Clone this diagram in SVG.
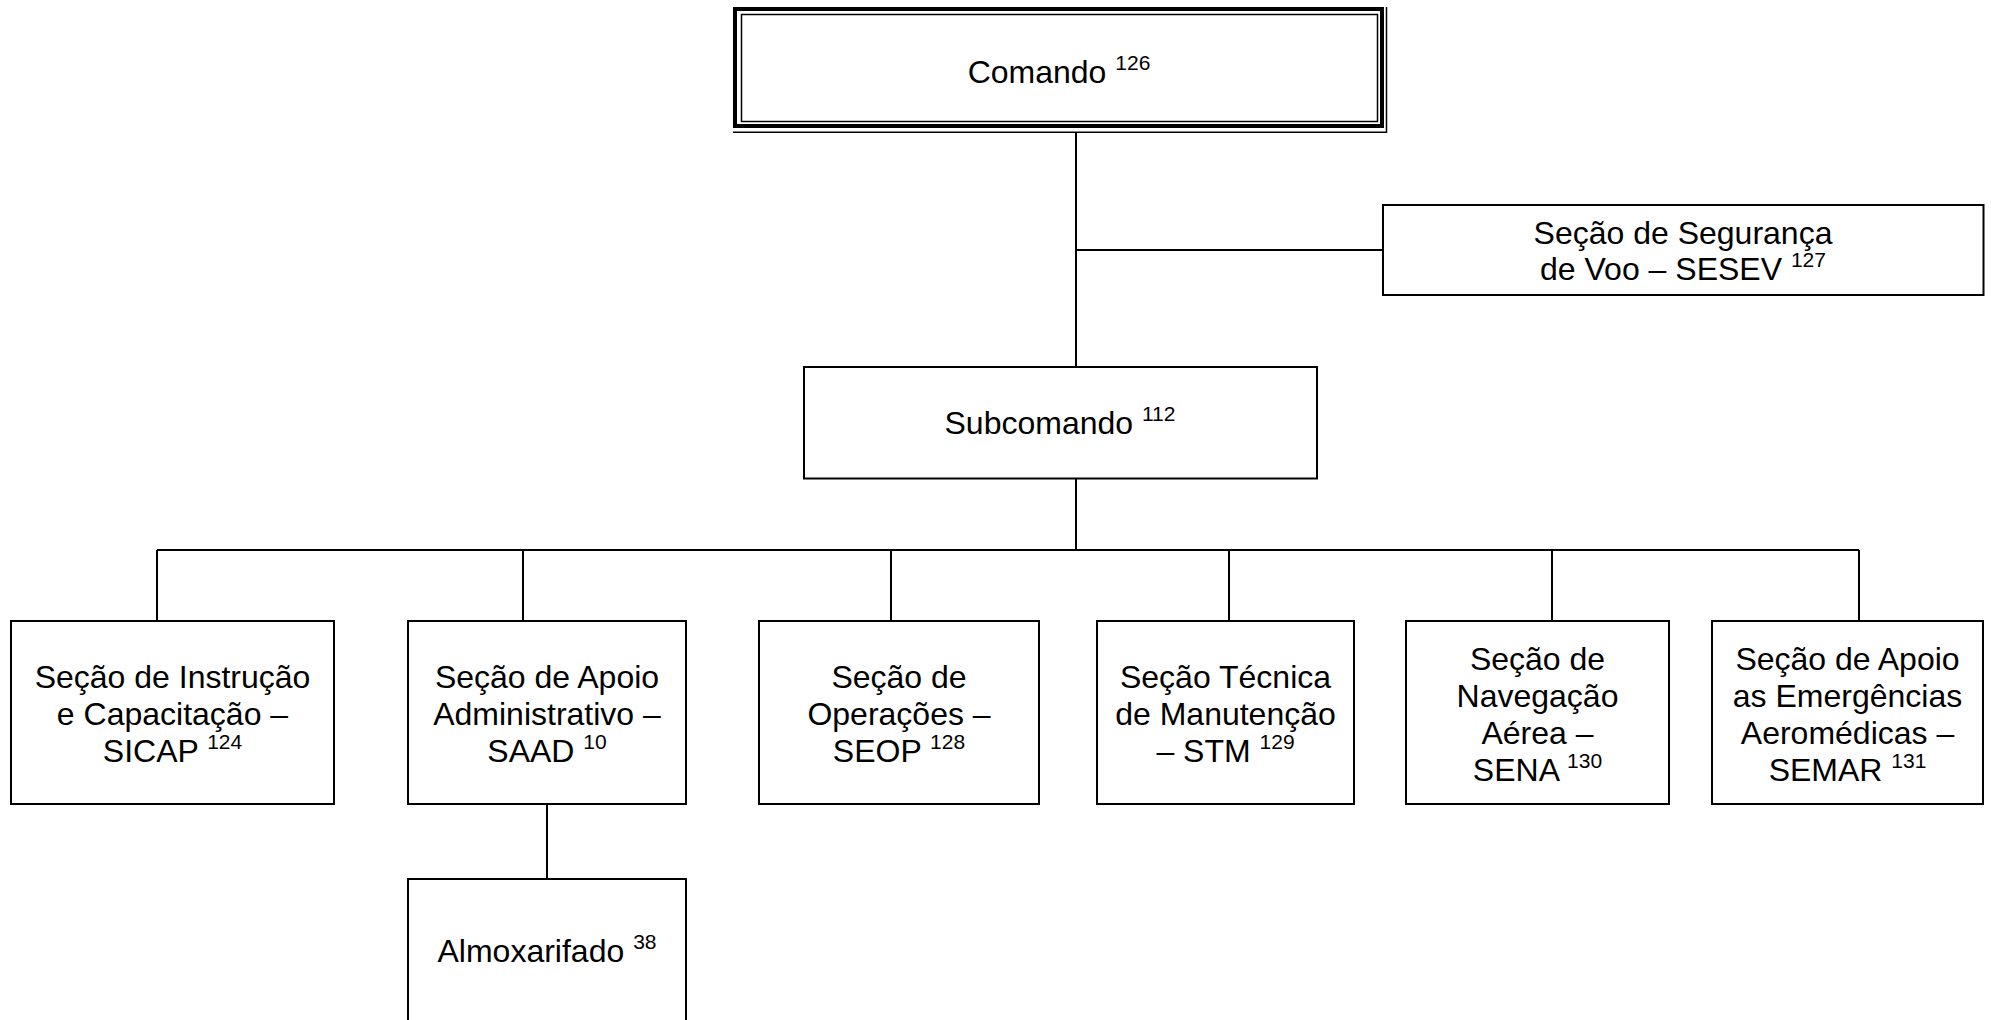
<svg xmlns="http://www.w3.org/2000/svg" width="1991" height="1020" viewBox="0 0 1991 1020">
<style>
  .box { fill: #fff; stroke: #000; stroke-width: 2; }
  .line { stroke: #000; stroke-width: 2; fill: none; }
  .thick { fill: #000; }
  .thin { stroke: #000; stroke-width: 1.5; fill: none; }
  text { font-family: "Liberation Sans", Arial, sans-serif; font-size: 32px; fill: #000; text-anchor: middle; }
  .sup { font-size: 21px; }
</style>
<rect width="1991" height="1020" fill="#fff"/>
<g id="connectors">
  <line class="line" x1="1076" y1="133" x2="1076" y2="367"/>
  <line class="line" x1="1076" y1="250" x2="1383" y2="250"/>
  <line class="line" x1="1076" y1="479" x2="1076" y2="550"/>
  <line class="line" x1="157" y1="550" x2="1859" y2="550"/>
  <line class="line" x1="157" y1="550" x2="157" y2="621"/>
  <line class="line" x1="523" y1="550" x2="523" y2="621"/>
  <line class="line" x1="891" y1="550" x2="891" y2="621"/>
  <line class="line" x1="1229" y1="550" x2="1229" y2="621"/>
  <line class="line" x1="1552" y1="550" x2="1552" y2="621"/>
  <line class="line" x1="1859" y1="550" x2="1859" y2="621"/>
  <line class="line" x1="547" y1="804" x2="547" y2="879"/>
</g>
<g id="comando">
  <rect x="733" y="7" width="651" height="126" fill="#fff"/>
  <rect class="thick" x="733" y="7" width="651" height="4"/>
  <rect class="thick" x="733" y="7" width="4" height="121"/>
  <rect class="thick" x="1380" y="7" width="4" height="121"/>
  <rect class="thick" x="733" y="124" width="651" height="4"/>
  <rect class="thin" x="741.5" y="14.5" width="636" height="107"/>
  <line class="thin" x1="1386.5" y1="7" x2="1386.5" y2="133"/>
  <line class="thin" x1="733" y1="132.3" x2="1387" y2="132.3"/>
  <text x="1059" y="83">Comando <tspan class="sup" dy="-13">126</tspan></text>
</g>
<g id="sesev">
  <rect class="box" x="1383" y="205" width="600.5" height="90"/>
  <text x="1683" y="244">Seção de Segurança</text>
  <text x="1683" y="280">de Voo – SESEV <tspan class="sup" dy="-13">127</tspan></text>
</g>
<g id="subcomando">
  <rect class="box" x="804" y="367" width="513" height="111.5"/>
  <text x="1060" y="434">Subcomando <tspan class="sup" dy="-13">112</tspan></text>
</g>
<g id="sicap">
  <rect class="box" x="11" y="621" width="323" height="183"/>
  <text x="172.5" y="688">Seção de Instrução</text>
  <text x="172.5" y="725">e Capacitação –</text>
  <text x="172.5" y="762">SICAP <tspan class="sup" dy="-13">124</tspan></text>
</g>
<g id="saad">
  <rect class="box" x="408" y="621" width="278" height="183"/>
  <text x="547" y="688">Seção de Apoio</text>
  <text x="547" y="725">Administrativo –</text>
  <text x="547" y="762">SAAD <tspan class="sup" dy="-13">10</tspan></text>
</g>
<g id="seop">
  <rect class="box" x="759" y="621" width="280" height="183"/>
  <text x="899" y="688">Seção de</text>
  <text x="899" y="725">Operações –</text>
  <text x="899" y="762">SEOP <tspan class="sup" dy="-13">128</tspan></text>
</g>
<g id="stm">
  <rect class="box" x="1097" y="621" width="257" height="183"/>
  <text x="1225.5" y="688">Seção Técnica</text>
  <text x="1225.5" y="725">de Manutenção</text>
  <text x="1225.5" y="762">– STM <tspan class="sup" dy="-13">129</tspan></text>
</g>
<g id="sena">
  <rect class="box" x="1406" y="621" width="263" height="183"/>
  <text x="1537.5" y="670">Seção de</text>
  <text x="1537.5" y="707">Navegação</text>
  <text x="1537.5" y="744">Aérea –</text>
  <text x="1537.5" y="781">SENA <tspan class="sup" dy="-13">130</tspan></text>
</g>
<g id="semar">
  <rect class="box" x="1712" y="621" width="271" height="183"/>
  <text x="1847.5" y="670">Seção de Apoio</text>
  <text x="1847.5" y="707">as Emergências</text>
  <text x="1847.5" y="744">Aeromédicas –</text>
  <text x="1847.5" y="781">SEMAR <tspan class="sup" dy="-13">131</tspan></text>
</g>
<g id="almoxarifado">
  <rect class="box" x="408" y="879" width="278" height="160"/>
  <text x="547" y="962">Almoxarifado <tspan class="sup" dy="-13">38</tspan></text>
</g>
</svg>
